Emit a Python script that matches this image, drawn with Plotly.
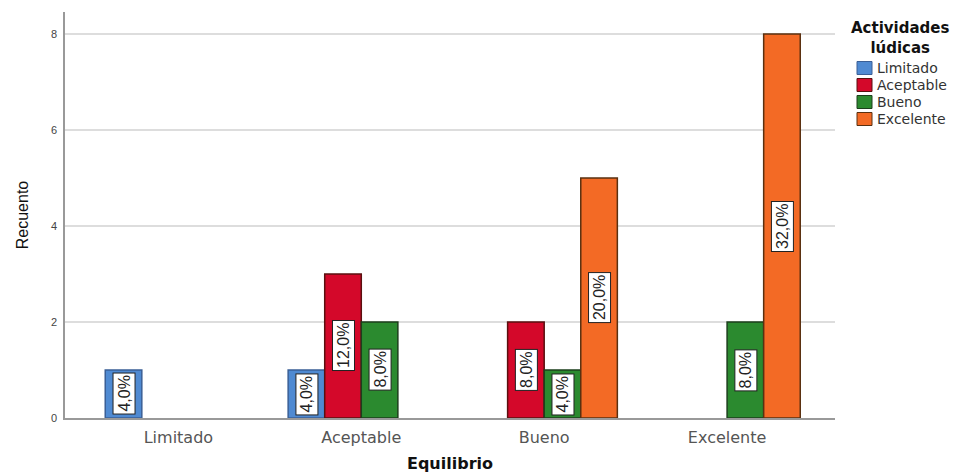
import plotly.graph_objects as go

categories = ["Limitado", "Aceptable", "Bueno", "Excelente"]
series_names = ["Limitado", "Aceptable", "Bueno", "Excelente"]
counts_limitado = [1, 1, None, None]
counts_aceptable = [None, 3, 2, None]
counts_bueno = [None, 2, 1, 2]
counts_excelente = [None, None, 5, 8]
pct_limitado = ["4,0%", "4,0%", None, None]
pct_aceptable = [None, "12,0%", "8,0%", None]
pct_bueno = [None, "8,0%", "4,0%", "8,0%"]
pct_excelente = [None, None, "20,0%", "32,0%"]
y_ticks = [0, 2, 4, 6, 8]

series_counts = [counts_limitado, counts_aceptable, counts_bueno, counts_excelente]
series_pcts = [pct_limitado, pct_aceptable, pct_bueno, pct_excelente]
colors = ["#4f8ad2", "#d4082a", "#2b8a2f", "#f36a25"]
outlines = ["#3a5f96", "#5a1010", "#1c3f1c", "#5a3010"]

SANS = "Liberation Sans, Arial, sans-serif"
WIDE = "DejaVu Sans, Verdana, sans-serif"

bar_w = 0.2
nser = len(series_names)

fig = go.Figure()
annotations = []
for j, (name, vals, pcts) in enumerate(zip(series_names, series_counts, series_pcts)):
    xs = [i + (j - (nser - 1) / 2) * bar_w for i in range(len(categories))]
    fig.add_trace(go.Bar(
        x=xs, y=vals, width=bar_w, name=name,
        marker=dict(color=colors[j], line=dict(color=outlines[j], width=1.5)),
        showlegend=False,
    ))
    for x, v, p in zip(xs, vals, pcts):
        if v is None:
            continue
        annotations.append(dict(
            x=x, y=v / 2, xref="x", yref="y", text=p, showarrow=False,
            textangle=-90, bgcolor="white", bordercolor="#222", borderwidth=1,
            borderpad=2,
            font=dict(family=SANS, size=16, color="#222"),
        ))

# page offset (body margin) -> work in page pixel coordinates
OFF = 8
FW, FH = 966 - OFF, 473 - OFF
L, R = 65 - OFF, 835 - OFF
T, B = 12 - OFF, 418 - OFF
W = R - L
H = B - T
def px(xp):
    return (xp - OFF - L) / W
def py(yp):
    return 1 - (yp - OFF - T) / H

annotations.append(dict(
    x=px(900), y=py(38), xref="paper", yref="paper",
    text="<b>Actividades<br>lúdicas</b>", showarrow=False,
    xanchor="center", yanchor="middle", align="center",
    font=dict(family=WIDE, size=15, color="#111"),
))
shapes = []
for j, name in enumerate(series_names):
    yc = 68 + j * 17
    shapes.append(dict(
        type="rect", xref="paper", yref="paper",
        x0=px(857), x1=px(872), y0=py(yc - 6.5), y1=py(yc + 6.5),
        fillcolor=colors[j], line=dict(color=outlines[j], width=1),
    ))
    annotations.append(dict(
        x=px(875), y=py(yc), xref="paper", yref="paper", text=name,
        showarrow=False, xanchor="left", yanchor="middle",
        font=dict(family=WIDE, size=14, color="#333"),
    ))

fig.update_layout(
    width=FW, height=FH,
    margin=dict(l=L, r=FW - R, t=T, b=FH - B, autoexpand=False),
    paper_bgcolor="white", plot_bgcolor="white",
    barmode="overlay",
    annotations=annotations, shapes=shapes,
    showlegend=False,
)
fig.update_xaxes(
    range=[-0.62, 3.59], tickvals=list(range(len(categories))), ticktext=categories,
    showgrid=False, zeroline=False, showline=True, linecolor="#999", linewidth=1.5,
    ticks="", ticklabelstandoff=4, automargin=False,
    tickfont=dict(family=WIDE, size=16, color="#555"),
    title=dict(text="<b>Equilibrio</b>", standoff=16,
               font=dict(family=WIDE, size=16, color="#111")),
)
fig.update_yaxes(
    range=[0, 8.46], tickvals=y_ticks, showgrid=True, gridcolor="#dddddd", gridwidth=1.5,
    zeroline=False, showline=True, linecolor="#999", linewidth=1.5, ticks="",
    ticklabelstandoff=4, automargin=False,
    tickfont=dict(family=SANS, size=11, color="#444"),
    title=dict(text="Recuento", standoff=18,
               font=dict(family=SANS, size=16, color="#111")),
)

fig.write_html("out.html")
